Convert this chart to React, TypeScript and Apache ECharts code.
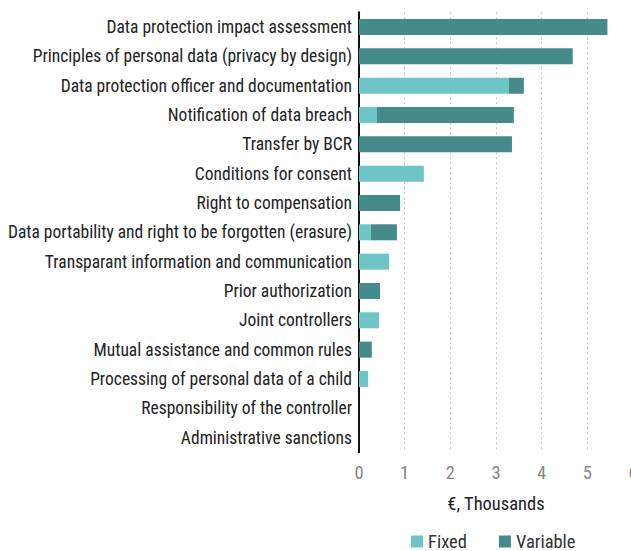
import React, { useEffect, useRef } from "react";
import * as echarts from "echarts";

const categories = [
  "Data protection impact assessment",
  "Principles of personal data (privacy by design)",
  "Data protection officer and documentation",
  "Notification of data breach",
  "Transfer by BCR",
  "Conditions for consent",
  "Right to compensation",
  "Data portability and right to be forgotten (erasure)",
  "Transparant information and communication",
  "Prior authorization",
  "Joint controllers",
  "Mutual assistance and common rules",
  "Processing of personal data of a child",
  "Responsibility of the controller",
  "Administrative sanctions",
];

const fixedValues = [0, 0, 3.28, 0.39, 0, 1.42, 0, 0.26, 0.66, 0, 0.44, 0, 0.2, 0, 0];
const variableValues = [5.44, 4.68, 0.33, 3.0, 3.35, 0, 0.9, 0.57, 0, 0.46, 0, 0.28, 0, 0, 0];

const xTicks = [0, 1, 2, 3, 4, 5, 6];

const FONT = "'Roboto Condensed', 'Liberation Sans Narrow', 'DejaVu Sans Condensed', Roboto, sans-serif";

export default function App() {
  const ref = useRef<HTMLDivElement>(null);
  useEffect(() => {
    document.body.style.margin = "0";
    if (!ref.current) return;
    const chart = echarts.init(ref.current, undefined, { renderer: "svg" });
    chart.setOption({
      animation: false,
      textStyle: { fontFamily: FONT },
      grid: {
        left: 359,
        right: -2,
        top: 12.3,
        bottom: 98.7,
        containLabel: false,
        outerBoundsMode: "none",
      },
      legend: {
        bottom: 0,
        left: 411,
        padding: 0,
        itemWidth: 12,
        itemHeight: 12,
        itemGap: 32,
        icon: "rect",
        textStyle: { fontFamily: FONT, fontSize: 18.5, color: "#333" },
        data: ["Fixed", "Variable"],
      },
      xAxis: {
        type: "value",
        min: xTicks[0],
        max: xTicks[xTicks.length - 1],
        interval: 1,
        name: "€, Thousands",
        nameLocation: "middle",
        nameGap: 42,
        nameTextStyle: { fontFamily: FONT, fontSize: 18.5, color: "#222" },
        axisLine: { show: false },
        axisTick: { show: false },
        axisLabel: { fontFamily: FONT, fontSize: 18.5, color: "#888", margin: 11 },
        splitLine: { show: true, lineStyle: { type: [2, 3], color: "#c4c4c4", width: 1 } },
      },
      yAxis: {
        type: "category",
        inverse: true,
        data: categories,
        axisLine: { show: true, lineStyle: { color: "#111", width: 2 } },
        axisTick: { show: false },
        axisLabel: { fontFamily: FONT, fontSize: 17.5, color: "#222", margin: 7 },
        splitLine: { show: false },
      },
      series: [
        {
          name: "Fixed",
          type: "bar",
          stack: "total",
          data: fixedValues,
          barWidth: 16,
          itemStyle: { color: "#6ec5c5" },
        },
        {
          name: "Variable",
          type: "bar",
          stack: "total",
          data: variableValues,
          barWidth: 16,
          itemStyle: { color: "#468b8c" },
        },
      ],
    });
    return () => chart.dispose();
  }, []);
  return <div ref={ref} style={{ width: 631, height: 551 }} />;
}
